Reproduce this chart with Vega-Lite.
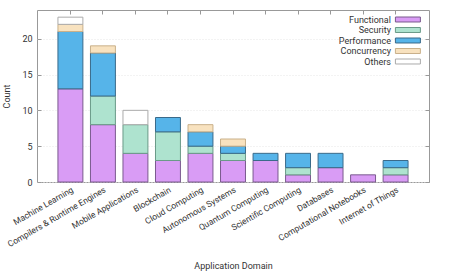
{
  "$schema": "https://vega.github.io/schema/vega-lite/v6.json",
  "width": 392,
  "height": 172,
  "autosize": "none",
  "padding": {"left": 37, "top": 10, "right": 47, "bottom": 90},
  "background": "white",
  "config": {
    "font": "Roboto",
    "view": {"stroke": "#999999", "strokeWidth": 1},
    "axis": {"labelFont": "Roboto", "titleFont": "Roboto", "labelColor": "#333333", "titleColor": "#333333", "titleFontWeight": "normal", "labelFontSize": 9, "titleFontSize": 9, "domain": false, "tickColor": "#999999"},
    "legend": {"labelFont": "Roboto", "labelFontSize": 9, "labelColor": "#333333"}
  },
  "data": {"values": [
    {"domain": "Machine Learning", "type": "Functional", "count": 13},
    {"domain": "Machine Learning", "type": "Performance", "count": 8},
    {"domain": "Machine Learning", "type": "Concurrency", "count": 1},
    {"domain": "Machine Learning", "type": "Others", "count": 1},
    {"domain": "Compilers & Runtime Engines", "type": "Functional", "count": 8},
    {"domain": "Compilers & Runtime Engines", "type": "Security", "count": 4},
    {"domain": "Compilers & Runtime Engines", "type": "Performance", "count": 6},
    {"domain": "Compilers & Runtime Engines", "type": "Concurrency", "count": 1},
    {"domain": "Mobile Applications", "type": "Functional", "count": 4},
    {"domain": "Mobile Applications", "type": "Security", "count": 4},
    {"domain": "Mobile Applications", "type": "Others", "count": 2},
    {"domain": "Blockchain", "type": "Functional", "count": 3},
    {"domain": "Blockchain", "type": "Security", "count": 4},
    {"domain": "Blockchain", "type": "Performance", "count": 2},
    {"domain": "Cloud Computing", "type": "Functional", "count": 4},
    {"domain": "Cloud Computing", "type": "Security", "count": 1},
    {"domain": "Cloud Computing", "type": "Performance", "count": 2},
    {"domain": "Cloud Computing", "type": "Concurrency", "count": 1},
    {"domain": "Autonomous Systems", "type": "Functional", "count": 3},
    {"domain": "Autonomous Systems", "type": "Security", "count": 1},
    {"domain": "Autonomous Systems", "type": "Performance", "count": 1},
    {"domain": "Autonomous Systems", "type": "Concurrency", "count": 1},
    {"domain": "Quantum Computing", "type": "Functional", "count": 3},
    {"domain": "Quantum Computing", "type": "Performance", "count": 1},
    {"domain": "Scientific Computing", "type": "Functional", "count": 1},
    {"domain": "Scientific Computing", "type": "Security", "count": 1},
    {"domain": "Scientific Computing", "type": "Performance", "count": 2},
    {"domain": "Databases", "type": "Functional", "count": 2},
    {"domain": "Databases", "type": "Performance", "count": 2},
    {"domain": "Computational Notebooks", "type": "Functional", "count": 1},
    {"domain": "Internet of Things", "type": "Functional", "count": 1},
    {"domain": "Internet of Things", "type": "Security", "count": 1},
    {"domain": "Internet of Things", "type": "Performance", "count": 1}
  ]},
  "layer": [
    {
      "transform": [{"calculate": "indexof(['Functional','Security','Performance','Concurrency','Others'], datum.type)", "as": "stackOrder"}],
      "mark": {"type": "bar", "strokeWidth": 1},
      "encoding": {
        "x": {
          "field": "domain", "type": "nominal",
          "sort": ["Machine Learning", "Compilers & Runtime Engines", "Mobile Applications", "Blockchain", "Cloud Computing", "Autonomous Systems", "Quantum Computing", "Scientific Computing", "Databases", "Computational Notebooks", "Internet of Things"],
          "scale": {"paddingInner": 0.233, "paddingOuter": 0.644},
          "title": "Application Domain",
          "axis": {"labelAngle": -30, "labelAlign": "right", "labelBaseline": "top", "labelFontSize": 8.5, "ticks": false, "labelPadding": 3, "titlePadding": 13}
        },
        "y": {
          "field": "count", "type": "quantitative", "stack": "zero",
          "scale": {"domain": [0, 24], "nice": false},
          "title": "Count",
          "axis": {"values": [0, 5, 10, 15, 20], "tickSize": -4, "labelPadding": 9, "grid": true, "gridColor": "#e6e6e6", "gridDash": [1, 2], "titlePadding": 10}
        },
        "fill": {
          "field": "type", "type": "nominal",
          "scale": {"domain": ["Functional", "Security", "Performance", "Concurrency", "Others"], "range": ["#d99cf5", "#aee3cf", "#56b4e9", "#f8e2bf", "#ffffff"]},
          "legend": {"title": null, "orient": "none", "legendX": 366.4, "legendY": 5, "symbolType": "M-4,-0.8H4V0.8H-4Z", "symbolSize": 39, "labelAlign": "right", "labelOffset": -21.5, "rowPadding": 0.5, "symbolStrokeWidth": 1}
        },
        "stroke": {
          "field": "type", "type": "nominal",
          "scale": {"domain": ["Functional", "Security", "Performance", "Concurrency", "Others"], "range": ["#7a5a8e", "#6a9a88", "#3a6a8a", "#c9b08a", "#aaaaaa"]}
        },
        "order": {"field": "stackOrder", "type": "quantitative", "sort": "ascending"}
      }
    },
    {
      "mark": {"type": "tick", "opacity": 0},
      "encoding": {
        "x": {"field": "domain", "type": "nominal", "sort": ["Machine Learning", "Compilers & Runtime Engines", "Mobile Applications", "Blockchain", "Cloud Computing", "Autonomous Systems", "Quantum Computing", "Scientific Computing", "Databases", "Computational Notebooks", "Internet of Things"], "axis": {"orient": "top", "labels": false, "title": null, "tickSize": -4, "grid": false}},
        "y": {"field": "count", "type": "quantitative", "axis": {"orient": "right", "labels": false, "title": null, "values": [0, 5, 10, 15, 20], "tickSize": -4, "grid": false}}
      }
    }
  ],
  "resolve": {"axis": {"x": "independent", "y": "independent"}}
}
